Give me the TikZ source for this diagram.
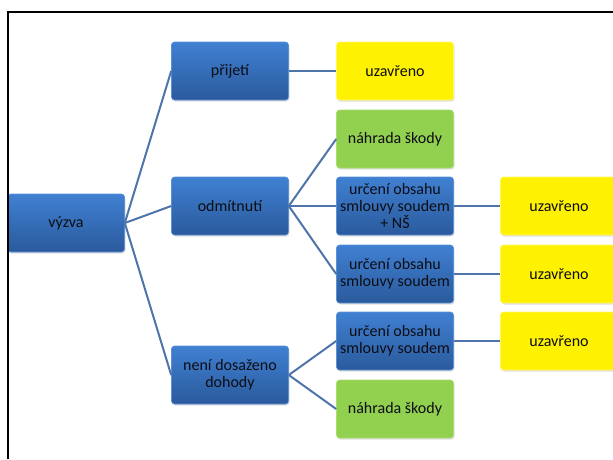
\documentclass[tikz,border=0pt]{standalone}
\usepackage{fontspec}
\setmainfont{Carlito}
\usetikzlibrary{shadows}
\definecolor{lineblue}{RGB}{79,116,170}
\definecolor{bluetop}{RGB}{64,128,210}
\definecolor{bluebot}{RGB}{42,90,156}
\definecolor{blueedge}{RGB}{90,145,215}
\definecolor{greenfill}{RGB}{146,208,80}
\definecolor{greenedge}{RGB}{170,222,110}
\definecolor{txt}{RGB}{13,13,20}
\tikzset{
  boxbase/.style={rectangle, rounded corners=3pt, minimum width=117pt, minimum height=58pt,
    inner sep=1pt, align=center, text=txt, font=\fontsize{16}{17}\selectfont,
    drop shadow={opacity=0.25, shadow xshift=1pt, shadow yshift=-1.5pt}},
  bluebox/.style={boxbase, top color=bluetop, bottom color=bluebot, draw=blueedge, line width=0.6pt},
  yellowbox/.style={boxbase, fill=yellow, draw=yellow!60!white, line width=0.6pt},
  greenbox/.style={boxbase, fill=greenfill, draw=greenedge, line width=0.6pt},
  conn/.style={draw=lineblue, line width=2pt},
}
\begin{document}
\begin{tikzpicture}[x=1pt,y=-1pt]
\useasboundingbox (0,0) rectangle (613,459);
\clip (0,0) rectangle (613,459);
\node[bluebox] (vyzva) at (66,223) {výzva};
\node[bluebox] (prijeti) at (230,71) {přijetí};
\node[bluebox] (odmit) at (230,206) {odmítnutí};
\node[bluebox] (neni) at (230,375) {není dosaženo\\dohody};
\node[yellowbox] (uz1) at (395,71) {uzavřeno};
\node[greenbox] (nah1) at (395,139) {náhrada škody};
\node[bluebox] (urc1) at (395,206) {určení obsahu\\smlouvy soudem\\+ NŠ};
\node[bluebox] (urc2) at (395,274) {určení obsahu\\smlouvy soudem};
\node[bluebox] (urc3) at (395,341) {určení obsahu\\smlouvy soudem};
\node[greenbox] (nah2) at (395,409) {náhrada škody};
\node[yellowbox] (uz2) at (559,206) {uzavřeno};
\node[yellowbox] (uz3) at (559,274) {uzavřeno};
\node[yellowbox] (uz4) at (559,341) {uzavřeno};
\draw[conn] (vyzva.east) -- (prijeti.west);
\draw[conn] (vyzva.east) -- (odmit.west);
\draw[conn] (vyzva.east) -- (neni.west);
\draw[conn] (prijeti.east) -- (uz1.west);
\draw[conn] (odmit.east) -- (nah1.west);
\draw[conn] (odmit.east) -- (urc1.west);
\draw[conn] (odmit.east) -- (urc2.west);
\draw[conn] (neni.east) -- (urc3.west);
\draw[conn] (neni.east) -- (nah2.west);
\draw[conn] (urc1.east) -- (uz2.west);
\draw[conn] (urc2.east) -- (uz3.west);
\draw[conn] (urc3.east) -- (uz4.west);
\coordinate (fbl) at (8,459);
\coordinate (ftl) at (8,12);
\coordinate (ftr) at (613,12);
\draw[line width=2pt, black] (fbl) -- (ftl) -- (ftr);
\end{tikzpicture}
\end{document}
